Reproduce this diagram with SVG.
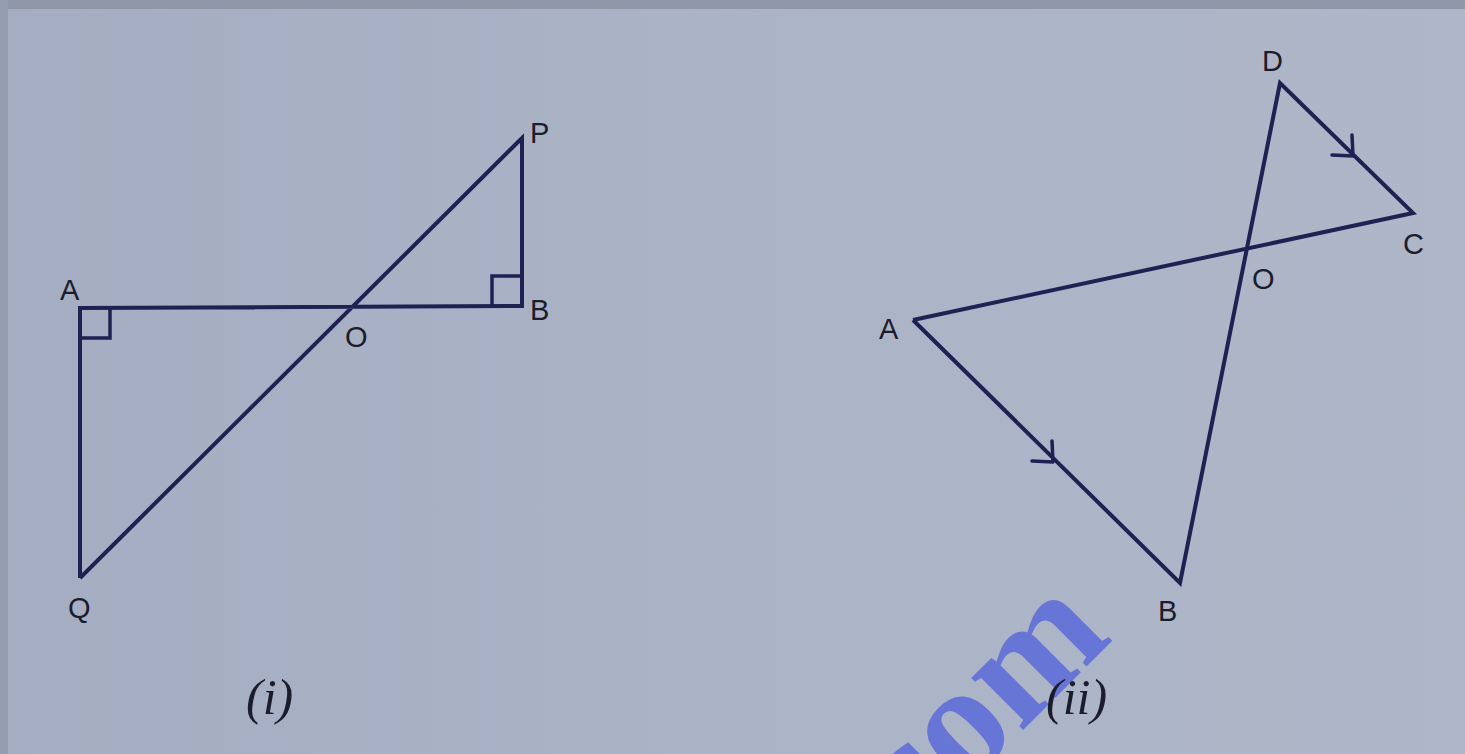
<svg xmlns="http://www.w3.org/2000/svg" width="1465" height="754" viewBox="0 0 1465 754">
  <style>
    .ln { stroke: #1f2152; stroke-width: 4; fill: none; stroke-linejoin: miter; stroke-linecap: butt; }
    .arr { stroke: #1f2152; stroke-width: 3.5; fill: none; stroke-linecap: round; stroke-linejoin: round; }
    .lbl { font-family: "Liberation Sans", Arial, sans-serif; font-size: 29px; fill: #1c1d2c; }
    .cap { font-family: "Liberation Serif", "Times New Roman", serif; font-style: italic; font-size: 50px; fill: #1c1d2c; }
    .wm { font-family: "Liberation Serif", "Times New Roman", serif; font-weight: bold; font-size: 160px; fill: #5a6ad8; fill-opacity: 0.85; }
  </style>
  <defs>
    <linearGradient id="bg" x1="0" y1="0" x2="1" y2="0">
      <stop offset="0" stop-color="#a4adc1"/>
      <stop offset="0.5" stop-color="#abb4c7"/>
      <stop offset="1" stop-color="#aeb6c8"/>
    </linearGradient>
  </defs>
  <rect x="0" y="0" width="1465" height="754" fill="url(#bg)"/>
  <rect x="0" y="0" width="1465" height="9" fill="#8f97a8"/>
  <rect x="0" y="0" width="8" height="754" fill="#959db0"/>

  <!-- watermark -->
  <text class="wm" x="885" y="868" transform="rotate(-45 885 868)">.com</text>

  <g id="connectors">
    <!-- figure (i) -->
    <path class="ln" d="M80,578 L80,308 L522,306 L522,138 L80,578"/>
    <path class="ln" d="M80,338 L110,338 L110,308" style="stroke-width:3.5"/>
    <path class="ln" d="M492,306 L492,276 L522,276" style="stroke-width:3.5"/>
    <!-- figure (ii) -->
    <path class="ln" d="M913,320 L1413,213 L1280,83 L1180,583 L913,320"/>
    <path class="arr" d="M1332,155 L1353,156 L1352,135"/>
    <path class="arr" d="M1032,461 L1053,462 L1052,441"/>
  </g>

  <g id="node-A1"><text class="lbl" x="60" y="300">A</text></g>
  <g id="node-B1"><text class="lbl" x="530" y="320">B</text></g>
  <g id="node-P1"><text class="lbl" x="530" y="143">P</text></g>
  <g id="node-O1"><text class="lbl" x="345" y="347">O</text></g>
  <g id="node-Q1"><text class="lbl" x="68" y="618">Q</text></g>
  <g id="caption-i"><text class="cap" x="246" y="714">(i)</text></g>

  <g id="node-D2"><text class="lbl" x="1262" y="71">D</text></g>
  <g id="node-C2"><text class="lbl" x="1403" y="254">C</text></g>
  <g id="node-O2"><text class="lbl" x="1252" y="289">O</text></g>
  <g id="node-A2"><text class="lbl" x="879" y="339">A</text></g>
  <g id="node-B2"><text class="lbl" x="1158" y="621">B</text></g>
  <g id="caption-ii"><text class="cap" x="1046" y="714">(ii)</text></g>
</svg>
